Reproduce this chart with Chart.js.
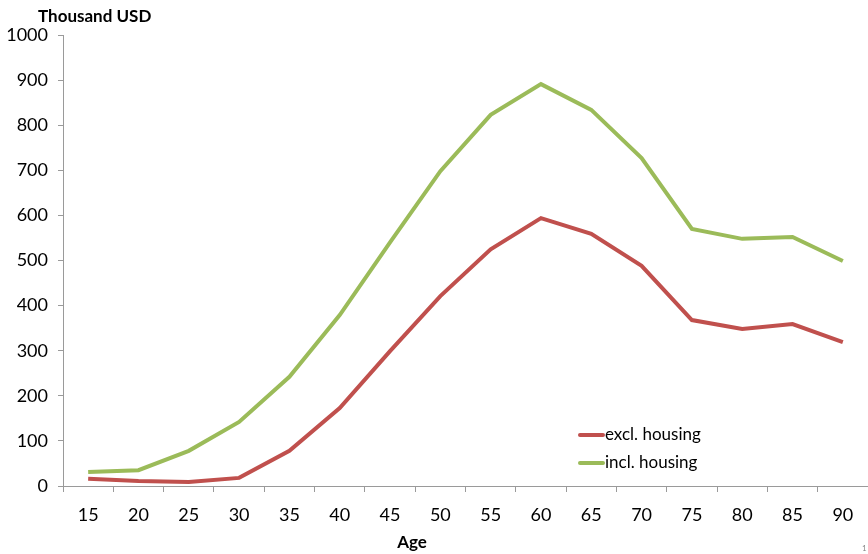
<!DOCTYPE html>
<html>
<head>
<meta charset="utf-8">
<script src="https://cdn.jsdelivr.net/npm/chart.js@4"></script>
<style>
  html, body { margin: 0; padding: 0; background: #fff; }
  #wrap { width: 868px; height: 554px; position: relative; }
</style>
</head>
<body>
<div id="wrap"><canvas id="wealthChart"></canvas></div>
<script>
ages = ['15', '20', '25', '30', '35', '40', '45', '50', '55', '60', '65', '70', '75', '80', '85', '90'];
exclHousing = [16, 11, 9, 18, 78, 173, 299, 421, 525, 594, 559, 488, 368, 348, 359, 319];
inclHousing = [31, 35, 78, 142, 242, 379, 540, 698, 823, 891, 834, 727, 570, 548, 552, 499];
seriesLabels = ['excl. housing', 'incl. housing'];
colors = ['#C0504D', '#9BBB59'];
yTitle = 'Thousand USD';
xTitle = 'Age';

const fontName = 'Lato, "Liberation Sans", sans-serif';
const axisGray = '#9a9a9a';

// titles, in-plot legend and the little page number
const extras = {
  id: 'extras',
  afterDraw(chart){
    const ctx = chart.ctx;
    ctx.save();
    ctx.fillStyle = '#000';
    ctx.textBaseline = 'middle';
    ctx.font = 'bold 17px ' + fontName;
    ctx.textAlign = 'left';
    ctx.fillText(yTitle, 38, 17);
    ctx.textAlign = 'center';
    ctx.fillText(xTitle, 412, 543);

    ctx.font = '17px ' + fontName;
    ctx.textAlign = 'left';
    for(var i = 0; i < seriesLabels.length; i++){
      var y = 435 + i * 28;
      ctx.strokeStyle = colors[i];
      ctx.lineWidth = 4;
      ctx.lineCap = 'round';
      ctx.beginPath();
      ctx.moveTo(580, y);
      ctx.lineTo(603, y);
      ctx.stroke();
      ctx.fillStyle = '#000';
      ctx.fillText(seriesLabels[i], 605, y);
    }

    ctx.font = '8px ' + fontName;
    ctx.fillStyle = '#888';
    ctx.fillText('1', 862, 548);
    ctx.restore();
  }
};

new Chart(document.getElementById('wealthChart'), {
  type: 'line',
  data: {
    labels: ages,
    datasets: [{
      label: seriesLabels[0],
      data: exclHousing,
      borderColor: colors[0],
      backgroundColor: colors[0],
      borderWidth: 4,
      pointRadius: 0,
      tension: 0
    }, {
      label: seriesLabels[1],
      data: inclHousing,
      borderColor: colors[1],
      backgroundColor: colors[1],
      borderWidth: 4,
      pointRadius: 0,
      tension: 0
    }]
  },
  options: {
    responsive: true,
    maintainAspectRatio: false,
    animation: false,
    layout: { padding: { top: 35, right: 0, left: 0, bottom: 0 } },
    plugins: {
      legend: { display: false },
      tooltip: { enabled: false }
    },
    scales: {
      x: {
        offset: true,
        grid: { offset: true, drawOnChartArea: false, color: axisGray, tickLength: 6 },
        border: { color: axisGray },
        ticks: { color: '#000', font: { family: fontName, size: 18 }, padding: 12, maxRotation: 0 },
        afterFit(scale){ scale.height = 68; }
      },
      y: {
        min: 0,
        max: 1000,
        ticks: {
          stepSize: 100,
          color: '#000',
          font: { family: fontName, size: 18 },
          padding: 10,
          callback: function(v){ return String(v); }
        },
        grid: { drawOnChartArea: false, color: axisGray, tickLength: 5 },
        border: { color: axisGray },
        afterFit(scale){ scale.width = 63; }
      }
    }
  },
  plugins: [extras]
});
</script>
</body>
</html>
